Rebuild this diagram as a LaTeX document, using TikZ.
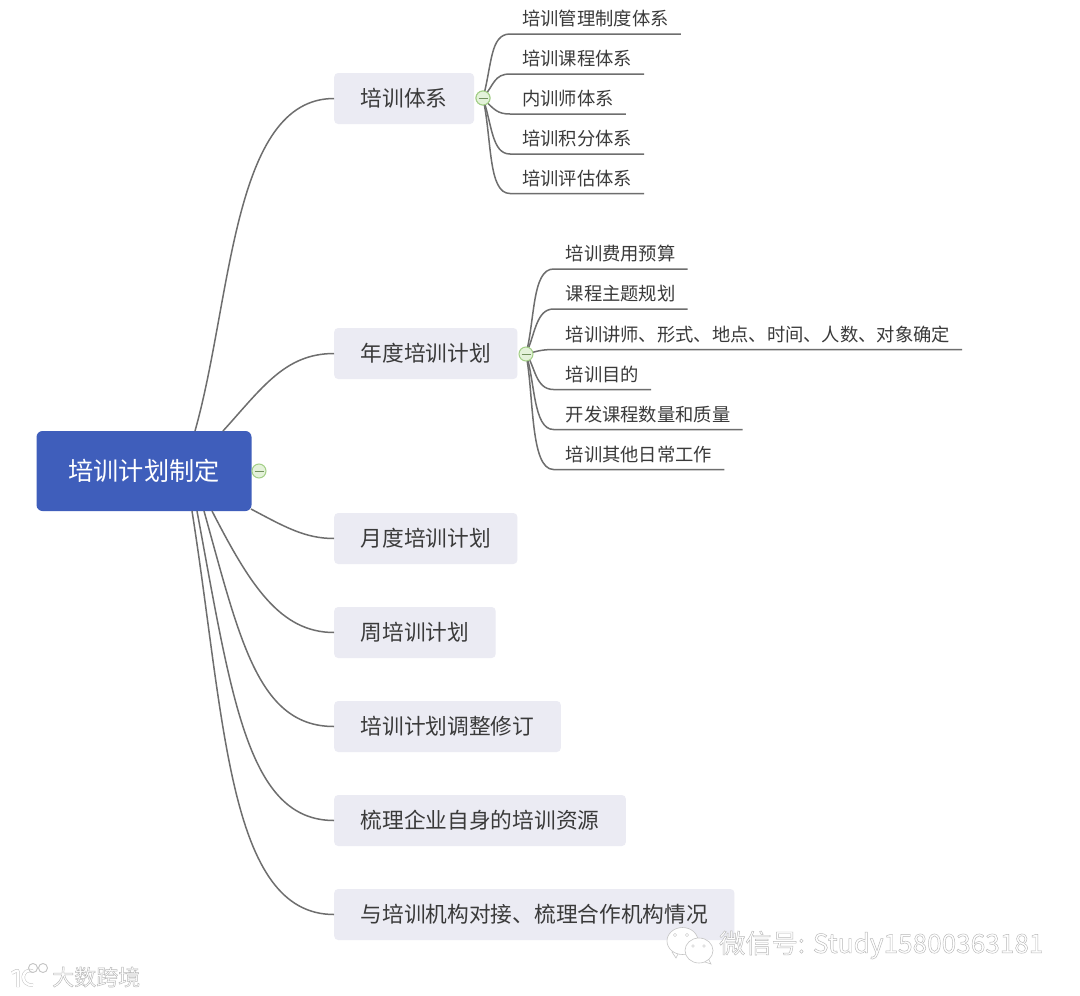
\documentclass[tikz,border=0pt]{standalone}
\usepackage{fontspec}
\setmainfont{Noto Sans CJK SC}
\newfontfamily\wmfont{Noto Sans CJK SC Light}
\definecolor{rootblue}{HTML}{3F5EBB}
\definecolor{boxgrey}{HTML}{EBEBF3}
\definecolor{inkgrey}{HTML}{3A3A3A}
\definecolor{linegrey}{HTML}{6E6E6E}
\definecolor{foldfill}{HTML}{E4F2DA}
\definecolor{foldline}{HTML}{A3CF87}
\definecolor{wmgrey}{HTML}{C4C4C4}
\tikzset{
  rootbox/.style={fill=rootblue,text=white,rounded corners=6pt,minimum width=215pt,minimum height=80pt,inner sep=0pt,font=\fontsize{25.2}{25}\selectfont},
  branchbox/.style={fill=boxgrey,text=inkgrey,rounded corners=4pt,minimum height=51pt,inner xsep=26.5pt,inner ysep=0pt,anchor=west,font=\fontsize{21.7}{22}\selectfont},
  leafbox/.style={text=inkgrey,minimum height=30pt,inner xsep=12pt,inner ysep=0pt,anchor=south west,font=\fontsize{18.3}{19}\selectfont},
  link/.style={draw=linegrey,line width=1.5pt},
  foldmark/.style={circle,draw=foldline,fill=foldfill,line width=1pt,minimum size=14pt,inner sep=0pt},
  wmline/.style={draw=wmgrey,fill=white,line width=0.6pt},
  wmtext/.style={inner sep=0pt,anchor=west},
}
\newcommand{\foldbar}[1]{\draw[draw=foldline!70!black,line width=1pt] ([xshift=-4.5pt]#1.center) -- ([xshift=4.5pt]#1.center);}
\newcommand{\embossed}[1]{\special{pdf:code 2 Tr 0.45 w 0.72 G 1 g}#1\special{pdf:code 0 Tr}}
\begin{document}
\begin{tikzpicture}[x=1pt,y=-1pt]
\useasboundingbox (0,0) rectangle (1080,996);
\fill[white] (0,0) rectangle (1080,996);
% root
\node[rootbox] (root) at (144,471) {\raisebox{-1pt}{培训计划制定}};
\node[foldmark] (fold0) at (259,471) {};
\foldbar{fold0}
% branches
\node[branchbox] (b1) at (334,98.5) {\raisebox{-0.5pt}{培训体系}};
\node[branchbox] (b2) at (334,353.5) {\raisebox{-0.5pt}{年度培训计划}};
\node[branchbox] (b3) at (334,538.5) {\raisebox{-0.5pt}{月度培训计划}};
\node[branchbox] (b4) at (334,632.5) {\raisebox{-0.5pt}{周培训计划}};
\node[branchbox] (b5) at (334,726.5) {\raisebox{-0.5pt}{培训计划调整修订}};
\node[branchbox] (b6) at (334,820.5) {\raisebox{-0.5pt}{梳理企业自身的培训资源}};
\node[branchbox] (b7) at (334,914.5) {\raisebox{-0.5pt}{与培训机构对接、梳理合作机构情况}};
% root connector starts
\coordinate (r1) at (195,431);
\coordinate (r2) at (223,431);
\coordinate (r3) at (251,509);
\coordinate (r4) at (212,511);
\coordinate (r5) at (204,511);
\coordinate (r6) at (197,511);
\coordinate (r7) at (192,511);
\draw[link] (r1) .. controls (232,300) and (232,98.5) .. (b1.west);
\draw[link] (r2) .. controls (262,388) and (285,353.5) .. (b2.west);
\draw[link] (r3) .. controls (285,527) and (305,538.5) .. (b3.west);
\draw[link] (r4) .. controls (250,585) and (280,632.5) .. (b4.west);
\draw[link] (r5) .. controls (240,640) and (258,726.5) .. (b5.west);
\draw[link] (r6) .. controls (232,700) and (248,820.5) .. (b6.west);
\draw[link] (r7) .. controls (225,720) and (228,914.5) .. (b7.west);
% group 1
\node[leafbox] (a1) at (510,34) {\raisebox{-0.5pt}{培训管理制度体系}};
\node[leafbox] (a2) at (510,74) {培训课程体系};
\node[leafbox] (a3) at (510,114) {内训师体系};
\node[leafbox] (a4) at (510,154) {培训积分体系};
\node[leafbox] (a5) at (510,193.5) {培训评估体系};
\node[foldmark] (fold1) at (483,98) {};
\draw[link] (fold1.center) .. controls (492,65) and (490,34) .. (a1.south west) -- (a1.south east);
\draw[link] (fold1.center) .. controls (494,85) and (494,74) .. (a2.south west) -- (a2.south east);
\draw[link] (fold1.center) .. controls (494,110) and (498,114) .. (a3.south west) -- (a3.south east);
\draw[link] (fold1.center) .. controls (492,125) and (492,154) .. (a4.south west) -- (a4.south east);
\draw[link] (fold1.center) .. controls (492,140) and (488,193.5) .. (a5.south west) -- (a5.south east);
\node[foldmark] at (483,98) (fold1b) {};
\foldbar{fold1b}
% group 2
\node[leafbox] (c1) at (553.5,269) {培训费用预算};
\node[leafbox] (c2) at (553.5,309) {课程主题规划};
\node[leafbox] (c3) at (553.5,349.5) {培训讲师、形式、地点、时间、人数、对象确定};
\node[leafbox] (c4) at (553.5,389.5) {\raisebox{0.5pt}{培训目的}};
\node[leafbox] (c5) at (553.5,429.5) {\raisebox{0.5pt}{开发课程数量和质量}};
\node[leafbox] (c6) at (553.5,469.5) {\raisebox{1pt}{培训其他日常工作}};
\coordinate (s2) at (526,354);
\draw[link] (s2) .. controls (535,320) and (532,269) .. (c1.south west) -- (c1.south east);
\draw[link] (s2) .. controls (535,335) and (536,309) .. (c2.south west) -- (c2.south east);
\draw[link] (s2) .. controls (535,352) and (540,349.5) .. (c3.south west) -- (c3.south east);
\draw[link] (s2) .. controls (535,365) and (535,389.5) .. (c4.south west) -- (c4.south east);
\draw[link] (s2) .. controls (535,380) and (533,429.5) .. (c5.south west) -- (c5.south east);
\draw[link] (s2) .. controls (534,395) and (530,469.5) .. (c6.south west) -- (c6.south east);
\node[foldmark] (fold2) at (526,354) {};
\foldbar{fold2}
% watermark, right
\fill[wmline] (672,952) -- (676,958) -- (680,950) -- cycle;
\draw[wmline] (682.5,941) ellipse (15.5 and 13.5);
\draw[wmgrey,line width=0.4pt] (675,935) circle (1.6) (687,935) circle (1.6);
\draw[wmline] (708,958) -- (711,964) -- (702,961) -- cycle;
\draw[wmline] (699,950.5) ellipse (14 and 12.5);
\draw[wmgrey,line width=0.4pt] (693,946) circle (1.3) (704,946) circle (1.3);
\node[wmtext] (wm1) at (719,945) {\fontsize{26.2}{27}\selectfont\embossed{微信号: Study15800363181}};
% watermark, left
\draw[wmgrey,line width=3.4pt,rounded corners=2pt] (12,973) -- (18,970) -- (18,987);
\draw[white,line width=2.4pt,rounded corners=2pt] (12,973) -- (18,970) -- (18,987);
\draw[wmgrey,line width=3.4pt] (33,971) .. controls (21,967) and (19,986) .. (33,985);
\draw[white,line width=2.4pt] (33,971) .. controls (21,967) and (19,986) .. (33,985);
\draw[wmgrey,line width=0.9pt] (33,968) circle (4.5) (43,968) circle (4.5);
\node[wmtext] (wm2) at (52,977) {\fontsize{22}{23}\selectfont\embossed{大数跨境}};
\end{tikzpicture}
\end{document}
